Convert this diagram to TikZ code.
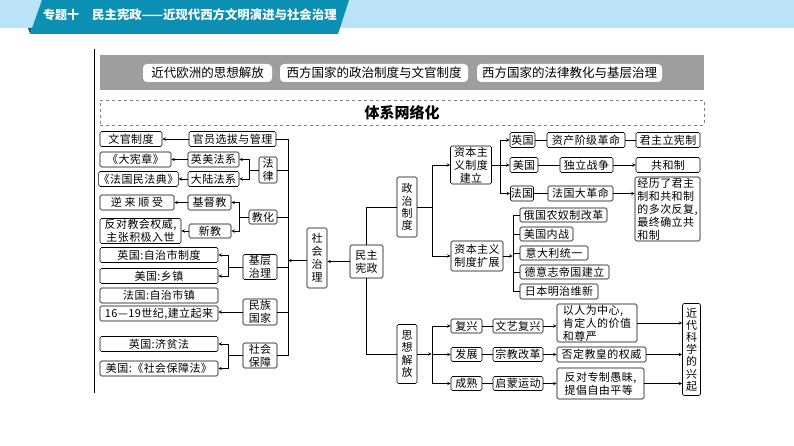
\documentclass[tikz,border=0pt]{standalone}
\usepackage{fontspec}
\setmainfont{Noto Sans CJK SC}
\definecolor{headband}{HTML}{BBE3F8}
\definecolor{headteal}{HTML}{0B8FB3}
\definecolor{headfold}{HTML}{0A5A70}
\definecolor{bandgray}{HTML}{9E9E9E}
\tikzset{
  mapbox/.style 2 args={draw, rounded corners=1.5pt, inner sep=0pt, outer sep=0pt, align=center,
    minimum width=#1pt, minimum height=#2pt, line width=0.6pt,
    font=\fontsize{11}{13}\selectfont\addfontfeature{LetterSpace=4}},
  widetext/.style={font=\fontsize{11}{13}\selectfont\addfontfeature{LetterSpace=25}},
  pill/.style={fill=white, rounded corners=4pt, inner sep=0pt, minimum height=18pt, font=\fontsize{12.5}{14}\selectfont},
  link/.style={line width=0.6pt},
  arrowlink/.style={line width=0.6pt, ->, >=stealth, shorten >=0.3pt}
}
\begin{document}
\begin{tikzpicture}[x=1pt, y=-1pt]
  \useasboundingbox (0,0) rectangle (794,446);

  % Header
  \fill[headband] (0,0) rectangle (794,28);
  \fill[headfold] (28,28) -- (32,28) -- (30,34) -- cycle;
  \fill[headteal] (42,0) -- (349,0) -- (338,34) -- (30,34) -- cycle;
  \node[text=white, anchor=west, inner sep=0pt, font=\fontsize{12}{14}\selectfont\bfseries] (hdno) at (43,15) {专题十};
  \node[text=white, anchor=west, inner sep=0pt, font=\fontsize{12.4}{14}\selectfont\bfseries] (hdtitle) at (92,15) {民主宪政——近现代西方文明演进与社会治理};

  % Side rule
  \draw[line width=1pt] (94.5,49) -- (94.5,393);

  % Topic band
  \fill[bandgray] (100,55) rectangle (704,90);
  \node[pill, minimum width=129pt] (topicA) at (207.5,73) {近代欧洲的思想解放};
  \node[pill, minimum width=188pt] (topicB) at (374,73) {西方国家的政治制度与文官制度};
  \node[pill, minimum width=185pt] (topicC) at (569.5,73) {西方国家的法律教化与基层治理};

  % Title
  \node[draw=gray, dashed, line width=0.5pt, minimum width=604pt, minimum height=25pt, inner sep=0pt,
    font=\fontsize{15}{17}\selectfont\bfseries] (title) at (402,112.5) {体系网络化};

  % Centre
  \node[mapbox={33}{33}] (minzhu) at (366.5,261.5) {民主\\宪政};
  \node[mapbox={20}{60}] (shehui) at (317,258) {社\\会\\治\\理};
  \node[mapbox={20}{60}] (zhengzhi) at (407,207) {政\\[-0.7pt]治\\[-0.7pt]制\\[-0.7pt]度};
  \node[mapbox={20}{59}] (sixiang) at (407,354) {思\\[-0.7pt]想\\[-0.7pt]解\\[-0.7pt]放};

  % Left branch, second level
  \node[mapbox={87}{15}] (guanyuan) at (232.5,139) {官员选拔与管理};
  \node[mapbox={18}{26}] (falv) at (268,170) {法\\律};
  \node[mapbox={28}{14}] (jiaohua) at (263,217) {教化};
  \node[mapbox={34}{25}] (jiceng) at (260,267) {基层\\治理};
  \node[mapbox={34}{26}] (minzu) at (260,312) {民族\\国家};
  \node[mapbox={34}{25}] (baozhang) at (260,355.5) {社会\\保障};

  % Left branch, third level
  \node[mapbox={51}{15}] (yingmei) at (213.5,159.5) {英美法系};
  \node[mapbox={51}{15}] (dalu) at (213.5,179) {大陆法系};
  \node[mapbox={43}{15}] (jidu) at (209.5,202.5) {基督教};
  \node[mapbox={42}{14}] (xinjiao) at (210,231) {新教};

  % Left branch, leaves
  \node[mapbox={62}{15}] (wenguan) at (131,139) {文官制度};
  \node[mapbox={71}{15}] (dxz) at (135.5,159.5) {《大宪章》};
  \node[mapbox={77}{15}] (mfd) at (138.5,179) {《法国民法典》};
  \node[mapbox={74}{15}, widetext] (nilai) at (137,202.5) {逆来顺受};
  \node[mapbox={81}{25}] (fandui) at (140.5,231) {反对教会权威,\\主张积极入世};
  \node[mapbox={118}{15}] (yingzhi) at (159,255) {英国:自治市制度};
  \node[mapbox={118}{15}] (meixiang) at (159,276) {美国:乡镇};
  \node[mapbox={118}{15}] (fazhen) at (159,295.5) {法国:自治市镇};
  \node[mapbox={118}{15}] (shiji) at (159,313.5) {16—19世纪,建立起来};
  \node[mapbox={118}{15}] (jipin) at (159,344) {英国:济贫法};
  \node[mapbox={118}{15}] (shebao) at (159,368.5) {美国:《社会保障法》};

  % Right branch, politics
  \node[mapbox={41}{38}] (jianli) at (471,165) {资本主\\义制度\\建立};
  \node[mapbox={52}{30}] (kuozhan) at (477,256) {资本主义\\制度扩展};
  \node[mapbox={25}{15}] (yg) at (522.5,140) {英国};
  \node[mapbox={78}{15}] (zichan) at (586,140) {资产阶级革命};
  \node[mapbox={64}{15}] (junzhu) at (668,140) {君主立宪制};
  \node[mapbox={28}{15}] (mg) at (524,165) {美国};
  \node[mapbox={53}{15}] (duli) at (586.5,165) {独立战争};
  \node[mapbox={64}{15}] (gonghe) at (668,165) {共和制};
  \node[mapbox={23}{15}] (fg) at (522,193.5) {法国};
  \node[mapbox={65}{15}] (dgm) at (580.5,193.5) {法国大革命};
  \node[mapbox={65}{64}, align=left] (jingli) at (667.5,209) {经历了君主\\制和共和制\\的多次反复,\\最终确立共\\和制};
  \node[mapbox={87}{14}] (eguo) at (563.5,215) {俄国农奴制改革};
  \node[mapbox={53}{14}] (meizhan) at (546.5,234) {美国内战};
  \node[mapbox={68}{14}] (yidali) at (554,253) {意大利统一};
  \node[mapbox={89}{14}] (deyi) at (564.5,272) {德意志帝国建立};
  \node[mapbox={78}{15}] (riben) at (559,291.5) {日本明治维新};

  % Right branch, thought
  \node[mapbox={31}{14}] (fuxing) at (466.5,326) {复兴};
  \node[mapbox={50}{14}] (wenyi) at (518,326) {文艺复兴};
  \node[mapbox={80}{38}, align=left] (yiren) at (597,323) {以人为中心,\\肯定人的价值\\和尊严};
  \node[mapbox={31}{14}] (fazhan) at (466.5,354.5) {发展};
  \node[mapbox={50}{14}] (zongjiao) at (518,354.5) {宗教改革};
  \node[mapbox={89}{15}] (fouding) at (601.5,354.5) {否定教皇的权威};
  \node[mapbox={31}{14}] (chengshu) at (466.5,383.5) {成熟};
  \node[mapbox={50}{14}] (qimeng) at (518,383.5) {启蒙运动};
  \node[mapbox={87}{31}, align=left] (fandui2) at (600.5,383.5) {反对专制愚昧,\\提倡自由平等};
  \node[mapbox={18}{92}] (jindai) at (691.5,349.5) {近\\[-0.8pt]代\\[-0.8pt]科\\[-0.8pt]学\\[-0.8pt]的\\[-0.8pt]兴\\[-0.8pt]起};

  % Forks
  \coordinate (lefttrunk) at (288,260.5);
  \coordinate (falvfork) at (249,170);
  \coordinate (jiaofork) at (239,217);
  \coordinate (jicengfork) at (228,267);
  \coordinate (baofork) at (228,355.5);
  \coordinate (zzfork) at (432,207);
  \coordinate (jlfork) at (500,165);
  \coordinate (kzfork) at (513,256);
  \coordinate (sxfork) at (432,354);

  % Left connectors
  \draw[arrowlink] (minzhu.west) -- (minzhu.west -| shehui.east);
  \draw[arrowlink] (shehui.west |- lefttrunk) -- (lefttrunk);
  \foreach \branch in {guanyuan,falv,jiaohua,jiceng,minzu,baozhang}
    \draw[link] (lefttrunk) |- (\branch.east);
  \draw[arrowlink] (guanyuan.west) -- (wenguan.east);
  \draw[link] (falv.west) -- (falvfork);
  \draw[arrowlink] (falvfork) |- (yingmei.east);
  \draw[arrowlink] (falvfork) |- (dalu.east);
  \draw[arrowlink] (yingmei.west) -- (dxz.east);
  \draw[arrowlink] (dalu.west) -- (mfd.east);
  \draw[link] (jiaohua.west) -- (jiaofork);
  \draw[arrowlink] (jiaofork) |- (jidu.east);
  \draw[arrowlink] (jiaofork) |- (xinjiao.east);
  \draw[arrowlink] (jidu.west) -- (nilai.east);
  \draw[arrowlink] (xinjiao.west) -- (fandui.east);
  \draw[link] (jiceng.west) -- (jicengfork);
  \draw[arrowlink] (jicengfork) |- (yingzhi.east);
  \draw[arrowlink] (jicengfork) |- (meixiang.east);
  \draw[arrowlink] (minzu.west) -- (minzu.west -| shiji.east);
  \draw[link] (baozhang.west) -- (baofork);
  \draw[arrowlink] (baofork) |- (jipin.east);
  \draw[arrowlink] (baofork) |- (shebao.east);

  % Right connectors
  \draw[link] (minzhu.north) |- (zhengzhi.west);
  \draw[link] (minzhu.south) |- (sixiang.west);
  \draw[link] (zhengzhi.east) -- (zzfork);
  \draw[arrowlink] (zzfork) |- (jianli.west);
  \draw[arrowlink] (zzfork) |- (kuozhan.west);
  \draw[arrowlink] (jianli.east) -- (mg.west);
  \draw[arrowlink] (jlfork) |- (yg.west);
  \draw[arrowlink] (jlfork) |- (fg.west);
  \draw[link] (yg.east) -- (zichan.west);
  \draw[link] (zichan.east) -- (junzhu.west);
  \draw[link] (mg.east) -- (duli.west);
  \draw[arrowlink] (duli.east) -- (gonghe.west);
  \draw[link] (fg.east) -- (dgm.west);
  \draw[arrowlink] (dgm.east) -- (dgm.east -| jingli.west);
  \draw[arrowlink] (kuozhan.east) -- (kzfork);
  \foreach \branch in {eguo,meizhan,yidali,deyi,riben}
    \draw[link] (kzfork) |- (\branch.west);

  \draw[arrowlink] (sixiang.east) -- (sxfork);
  \draw[arrowlink] (sxfork) |- (fuxing.west);
  \draw[arrowlink] (sxfork) |- (fazhan.west);
  \draw[arrowlink] (sxfork) |- (chengshu.west);
  \draw[link] (fuxing.east) -- (wenyi.west);
  \draw[arrowlink] (wenyi.east) -- (wenyi.east -| yiren.west);
  \draw[link] (fazhan.east) -- (zongjiao.west);
  \draw[arrowlink] (zongjiao.east) -- (fouding.west);
  \draw[link] (chengshu.east) -- (qimeng.west);
  \draw[arrowlink] (qimeng.east) -- (fandui2.west);
  \draw[arrowlink] (yiren.east) -- (yiren.east -| jindai.west);
  \draw[arrowlink] (fouding.east) -- (fouding.east -| jindai.west);
  \draw[arrowlink] (fandui2.east) -- (fandui2.east -| jindai.west);
\end{tikzpicture}
\end{document}
